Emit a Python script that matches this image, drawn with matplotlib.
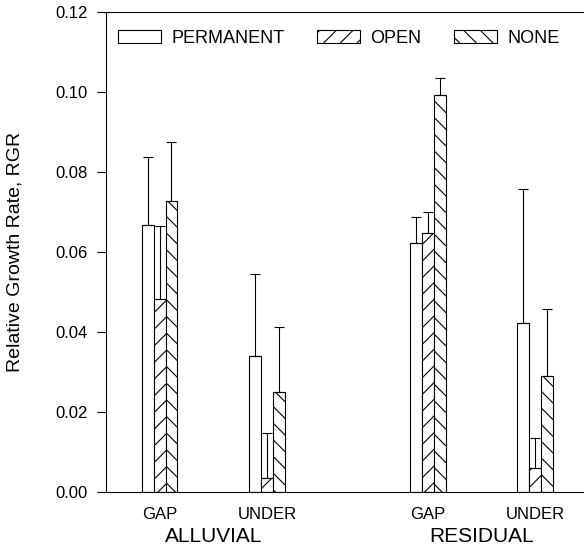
import numpy as np
import matplotlib
matplotlib.use('Agg')
import matplotlib.pyplot as plt

plt.rcParams['font.family'] = ['Liberation Sans', 'DejaVu Sans']
plt.rcParams['hatch.linewidth'] = 0.8

# data
sites = ['GAP', 'UNDER', 'GAP', 'UNDER']
soils = ['ALLUVIAL', 'RESIDUAL']
permanent = [0.0667, 0.0339, 0.0623, 0.0423]
permanent_err = [0.0171, 0.0205, 0.0064, 0.0335]
open_ = [0.0482, 0.0036, 0.0648, 0.0060]
open_err = [0.0182, 0.0112, 0.0052, 0.0076]
none = [0.0728, 0.0249, 0.0992, 0.0290]
none_err = [0.0148, 0.0164, 0.0042, 0.0168]

x = np.array([1, 2, 3.5, 4.5])
w = 0.11

fig = plt.figure(figsize=(5.84, 5.57), dpi=100)
ax = fig.add_axes([106/584, 65/557, 478/584, 480/557])

series = [
    (permanent, permanent_err, '', 'PERMANENT', -w),
    (open_, open_err, '//', 'OPEN', 0),
    (none, none_err, '\\\\', 'NONE', w),
]
for vals, err, hatch, label, off in series:
    ax.bar(x + off, vals, w, color='white', edgecolor='black', linewidth=0.8,
           hatch=hatch, label=label)
    ax.errorbar(x + off, vals, yerr=[np.zeros(len(vals)), err], fmt='none',
                ecolor='black', elinewidth=0.8, capsize=3.3, capthick=0.8)

ax.set_xlim(0.5, 4.955)
ax.set_ylim(0, 0.12)
ax.set_yticks(np.arange(0, 0.121, 0.02))
ax.set_yticklabels(['%.2f' % v for v in np.arange(0, 0.121, 0.02)])
ax.set_xticks(x)
ax.set_xticklabels(sites)
ax.tick_params(axis='y', direction='out', length=6.5, width=0.8, labelsize=12, pad=7)
ax.tick_params(axis='x', length=0, labelsize=12, pad=11)
ax.spines['right'].set_visible(False)
for s in ['left', 'top', 'bottom']:
    ax.spines[s].set_linewidth(0.8)

ax.set_ylabel('Relative Growth Rate, RGR', fontsize=14)
ax.yaxis.set_label_coords(-0.172, 0.5)

trans = matplotlib.transforms.blended_transform_factory(ax.transData, ax.transAxes)
ax.text(1.5, -0.092, soils[0], transform=trans, ha='center', va='center', fontsize=15)
ax.text(4.0, -0.092, soils[1], transform=trans, ha='center', va='center', fontsize=15)

ax.legend(loc='upper left', bbox_to_anchor=(118/584, 1 - 30/557),
          bbox_transform=fig.transFigure, ncol=3, frameon=False, fontsize=13,
          handlelength=2.4, handleheight=0.72, handletextpad=0.55,
          columnspacing=1.8, borderpad=0, borderaxespad=0)

fig.savefig('out.png', dpi=100)
